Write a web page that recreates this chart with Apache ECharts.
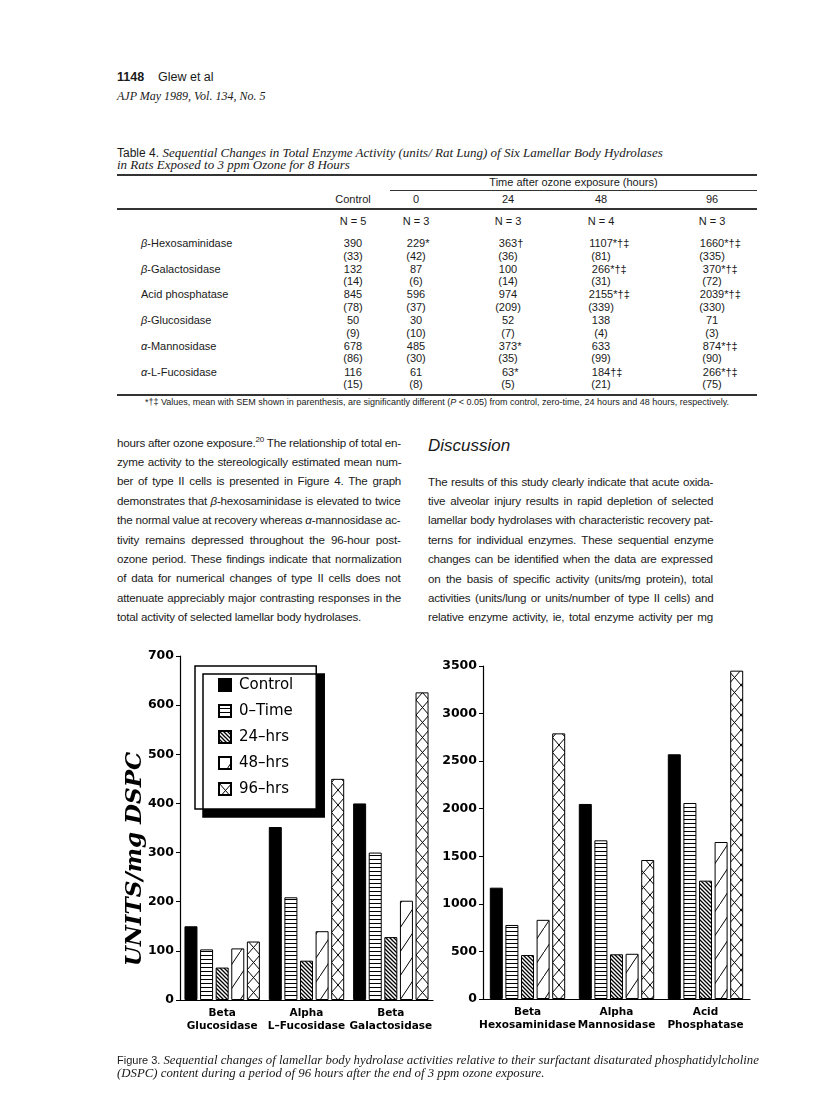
<!DOCTYPE html>
<html>
<head>
<meta charset="utf-8">
<script src="https://cdn.jsdelivr.net/npm/echarts@6/dist/echarts.min.js"></script>
<style>
body { margin: 0; background: #fff; }
#page { position: relative; width: 816px; height: 1114px; overflow: hidden; font-family: 'Liberation Sans', Arial, sans-serif; color: #1a1a1a; }
.abs { position: absolute; white-space: nowrap; }
.serif { font-family: 'Liberation Serif', serif; font-style: italic; }
.rule { position: absolute; left: 117px; width: 640px; background: #333; }
.ln { position: absolute; white-space: nowrap; font-size: 11.6px; letter-spacing: -0.2px; line-height: 19px; height: 19px; }
#chart { position: absolute; left: 0; top: 640px; width: 816px; height: 415px; }
</style>
</head>
<body>
<div id="page">
  <div class="abs" style="left:117px;top:70px;font-size:12.5px;"><b>1148</b>&nbsp;&nbsp;&nbsp; Glew et al</div>
  <div class="abs serif" style="left:117px;top:89px;font-size:12px;">AJP May 1989, Vol. 134, No. 5</div>

  <div class="abs" style="left:117px;top:145px;font-size:12px;">Table 4. <span class="serif" style="font-size:13px;">Sequential Changes in Total Enzyme Activity (units/ Rat Lung) of Six Lamellar Body Hydrolases</span></div>
  <div class="abs serif" style="left:117px;top:157px;font-size:13px;">in Rats Exposed to 3 ppm Ozone for 8 Hours</div>
  <div class="rule" style="top:174px;height:2px;"></div>
  <div class="abs" style="left:390px;width:367px;top:175px;font-size:11px;line-height:14px;text-align:center;">Time after ozone exposure (hours)</div>
  <div class="rule" style="top:190px;left:390px;width:367px;height:1px;"></div>
  <div class="rule" style="top:208px;height:1.5px;"></div>
  <div class="rule" style="top:394px;height:1.5px;"></div>
  <div class="abs" style="left:117px;width:640px;top:397px;font-size:9px;line-height:11px;text-align:center;">*†‡ Values, mean with SEM shown in parenthesis, are significantly different (<i>P</i> &lt; 0.05) from control, zero-time, 24 hours and 48 hours, respectively.</div>
  <div id="table"></div>

  <div id="textLeft"></div>
  <div class="abs" style="left:428px;top:436px;font-size:17px;font-style:italic;">Discussion</div>
  <div id="textRight"></div>

  <div id="chart"></div>

  <div class="abs" style="left:117px;top:1053px;font-size:11px;">Figure 3. <span class="serif" style="font-size:12.8px;">Sequential changes of lamellar body hydrolase activities relative to their surfactant disaturated phosphatidylcholine</span></div>
  <div class="abs serif" style="left:117px;top:1066px;font-size:12.8px;">(DSPC) content during a period of 96 hours after the end of 3 ppm ozone exposure.</div>
</div>

<script>
// ---- table 4 ----
var tableCols = ['Control', '0', '24', '48', '96'];
var tableN = ['N = 5', 'N = 3', 'N = 3', 'N = 4', 'N = 3'];
var enzymes = ['<i>β</i>-Hexosaminidase', '<i>β</i>-Galactosidase', 'Acid phosphatase', '<i>β</i>-Glucosidase', '<i>α</i>-Mannosidase', '<i>α</i>-L-Fucosidase'];
var means = [
    ['390', '229*', '363†', '1107*†‡', '1660*†‡'],
    ['132', '87', '100', '266*†‡', '370*†‡'],
    ['845', '596', '974', '2155*†‡', '2039*†‡'],
    ['50', '30', '52', '138', '71'],
    ['678', '485', '373*', '633', '874*†‡'],
    ['116', '61', '63*', '184†‡', '266*†‡']
];
var sems = [
    ['(33)', '(42)', '(36)', '(81)', '(335)'],
    ['(14)', '(6)', '(14)', '(31)', '(72)'],
    ['(78)', '(37)', '(209)', '(339)', '(330)'],
    ['(9)', '(10)', '(7)', '(4)', '(3)'],
    ['(86)', '(30)', '(35)', '(99)', '(90)'],
    ['(15)', '(8)', '(5)', '(21)', '(75)']
];
var colX = [353, 416, 508, 601, 712];

function cell(html, x, y) {
    // number centred on the column, footnote marks hang to the right
    var m = html.match(/^([^*†‡]*)(.*)$/);
    return '<div class="abs" style="left:' + x + 'px;top:' + (y - 7) + 'px;font-size:11px;line-height:14px;">' +
        '<span style="position:relative;display:inline-block;transform:translateX(-50%);">' + m[1] +
        '<span style="position:absolute;left:100%;top:0;">' + m[2] + '</span></span></div>';
}
var t = '';
tableCols.forEach(function(c, j) { t += cell(c, colX[j], 199); });
tableN.forEach(function(c, j) { t += cell(c, colX[j], 221); });
enzymes.forEach(function(name, i) {
    var y = 243 + i * 25.7;
    t += '<div class="abs" style="left:141px;top:' + (y - 7) + 'px;font-size:11px;line-height:14px;">' + name + '</div>';
    for (var j = 0; j < 5; j++) {
        t += cell(means[i][j], colX[j], y);
        t += cell(sems[i][j], colX[j], y + 12.5);
    }
});
document.getElementById('table').innerHTML = t;

// ---- body text, one div per printed line, justified by hand ----
var leftLines = [
    'hours after ozone exposure.<sup style="font-size:8px;line-height:0;">20</sup> The relationship of total en-',
    'zyme activity to the stereologically estimated mean num-',
    'ber of type II cells is presented in Figure 4. The graph',
    'demonstrates that <i>β</i>-hexosaminidase is elevated to twice',
    'the normal value at recovery whereas <i>α</i>-mannosidase ac-',
    'tivity remains depressed throughout the 96-hour post-',
    'ozone period. These findings indicate that normalization',
    'of data for numerical changes of type II cells does not',
    'attenuate appreciably major contrasting responses in the',
    'total activity of selected lamellar body hydrolases.'
];
var rightLines = [
    'The results of this study clearly indicate that acute oxida-',
    'tive alveolar injury results in rapid depletion of selected',
    'lamellar body hydrolases with characteristic recovery pat-',
    'terns for individual enzymes. These sequential enzyme',
    'changes can be identified when the data are expressed',
    'on the basis of specific activity (units/mg protein), total',
    'activities (units/lung or units/number of type II cells) and',
    'relative enzyme activity, ie, total enzyme activity per mg'
];
function column(id, lines, x, y0, w, step, lastFree) {
    var box = document.getElementById(id);
    lines.forEach(function(s, i) {
        var d = document.createElement('div');
        d.className = 'ln';
        d.style.left = x + 'px';
        d.style.top = (y0 + i * step - 9.5) + 'px';
        d.innerHTML = s;
        box.appendChild(d);
        if (lastFree && i === lines.length - 1) return;
        var spaces = (s.replace(/<[^>]*>/g, '').match(/ /g) || []).length;
        var extra = w - d.scrollWidth;
        if (spaces) d.style.wordSpacing = (extra / spaces) + 'px';
    });
}
column('textLeft', leftLines, 117, 442, 284, 19.4, true);
column('textRight', rightLines, 428, 481, 285, 19.4, false);

// ---- Figure 3 ----
var categoriesA = ['Beta\nGlucosidase', 'Alpha\nL–Fucosidase', 'Beta\nGalactosidase'];
var categoriesB = ['Beta\nHexosaminidase', 'Alpha\nMannosidase', 'Acid\nPhosphatase'];
var seriesNames = ['Control', '0–Time', '24–hrs', '48–hrs', '96–hrs'];

// left panel (0-700)
var controlA = [150, 352, 400];
var time0A = [103, 209, 300];
var hrs24A = [66, 80, 128];
var hrs48A = [105, 140, 202];
var hrs96A = [119, 450, 626];

// right panel (0-3500)
var controlB = [1170, 2050, 2572];
var time0B = [778, 1668, 2060];
var hrs24B = [462, 470, 1244];
var hrs48B = [832, 475, 1650];
var hrs96B = [2792, 1461, 3451];

function hatch(kind) {
    var c = document.createElement('canvas');
    var g = c.getContext('2d');
    var w = 4, h = 4;
    if (kind === 'sparse') { w = 16; h = 24; }
    if (kind === 'cross') { w = 13; h = 15; }
    c.width = w; c.height = h;
    g.fillStyle = '#fff';
    g.fillRect(0, 0, w, h);
    g.strokeStyle = '#000';
    g.lineWidth = 1;
    g.beginPath();
    if (kind === 'horiz') {
        g.moveTo(0, 3.5); g.lineTo(w, 3.5);
    } else if (kind === 'dense') {
        g.lineWidth = 1.3;
        g.moveTo(-1, -1); g.lineTo(w + 1, h + 1);
        g.moveTo(-1, h - 1); g.lineTo(1, h + 1);
        g.moveTo(w - 1, -1); g.lineTo(w + 1, 1);
    } else if (kind === 'sparse') {
        g.moveTo(0, h); g.lineTo(w, 0);
    } else {
        g.moveTo(0, 0); g.lineTo(w, h);
        g.moveTo(w, 0); g.lineTo(0, h);
    }
    g.stroke();
    return { image: c, repeat: 'repeat' };
}
var fills = ['#000', hatch('horiz'), hatch('dense'), hatch('sparse'), hatch('cross')];

function bars(values, i, panel) {
    return {
        name: seriesNames[i],
        type: 'bar',
        xAxisIndex: panel,
        yAxisIndex: panel,
        data: values,
        barWidth: 13,
        barGap: '20%',
        itemStyle: { color: fills[i], borderColor: '#000', borderWidth: 1 },
        emphasis: { disabled: true }
    };
}

var tickFont = {
    color: '#000', fontFamily: 'DejaVu Sans', fontWeight: 'bold', fontSize: 12.5, margin: 6,
    formatter: function(v) { return String(v); }
};
var catFont = { color: '#000', fontFamily: 'DejaVu Sans', fontWeight: 'bold', fontSize: 10.5, lineHeight: 13, margin: 7, interval: 0 };
var blackLine = { show: true, lineStyle: { color: '#000', width: 1.2 } };

var chart = echarts.init(document.getElementById('chart'));
chart.setOption({
    animation: false,
    grid: [
        { left: 180, top: 16, width: 253, height: 344 },
        { left: 483, top: 26, width: 267, height: 333 }
    ],
    xAxis: [
        { type: 'category', gridIndex: 0, data: categoriesA, axisLine: blackLine, axisTick: { show: false }, axisLabel: catFont },
        { type: 'category', gridIndex: 1, data: categoriesB, axisLine: blackLine, axisTick: { show: false }, axisLabel: catFont }
    ],
    yAxis: [
        { type: 'value', gridIndex: 0, min: 0, max: 700, interval: 100, axisLine: blackLine,
          axisTick: { show: true, length: 4, lineStyle: { color: '#000' } }, axisLabel: tickFont, splitLine: { show: false } },
        { type: 'value', gridIndex: 1, min: 0, max: 3500, interval: 500, axisLine: blackLine,
          axisTick: { show: true, length: 4, lineStyle: { color: '#000' } }, axisLabel: tickFont, splitLine: { show: false } }
    ],
    legend: {
        data: seriesNames,
        orient: 'vertical',
        left: 195,
        top: 26,
        padding: [11, 23, 12, 23],
        itemGap: 10,
        itemWidth: 12,
        itemHeight: 12,
        icon: 'rect',
        selectedMode: false,
        backgroundColor: '#fff',
        borderColor: '#000',
        borderWidth: 1.5,
        borderRadius: 0,
        shadowColor: '#000',
        shadowBlur: 0,
        shadowOffsetX: 8,
        shadowOffsetY: 8,
        textStyle: { color: '#000', fontFamily: 'DejaVu Sans', fontSize: 15, lineHeight: 16, padding: [0, 0, 0, 3] }
    },
    graphic: [{
        type: 'text',
        x: 135,
        y: 219,
        rotation: Math.PI / 2,
        style: { text: 'UNITS/mg DSPC', font: 'italic bold 23px "DejaVu Serif"', fill: '#000', align: 'center', verticalAlign: 'middle' }
    }],
    series: [
        bars(controlA, 0, 0), bars(time0A, 1, 0), bars(hrs24A, 2, 0), bars(hrs48A, 3, 0), bars(hrs96A, 4, 0),
        bars(controlB, 0, 1), bars(time0B, 1, 1), bars(hrs24B, 2, 1), bars(hrs48B, 3, 1), bars(hrs96B, 4, 1)
    ]
});
</script>
</body>
</html>
